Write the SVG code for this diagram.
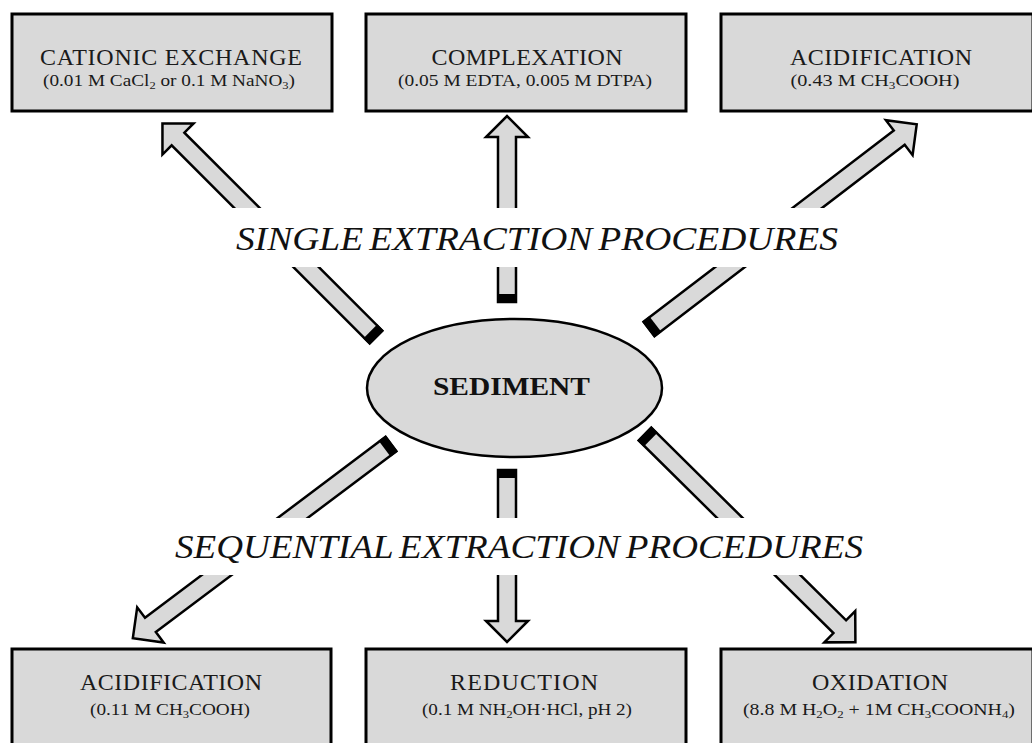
<svg xmlns="http://www.w3.org/2000/svg" width="1032" height="743" viewBox="0 0 1032 743">
<defs>
<style>
.box{fill:#d9d9d9;stroke:#000;stroke-width:3}
.t{font-family:"Liberation Serif","Times New Roman",serif;font-size:24px;fill:#1a1a1a;text-anchor:middle}
.s{font-family:"Liberation Serif","Times New Roman",serif;font-size:17px;fill:#1a1a1a;text-anchor:middle}
.sub{font-size:11px}
.arr{fill:#d9d9d9;stroke:#000;stroke-width:2.5;stroke-linejoin:miter}
.cap{fill:#000}
.band{font-family:"Liberation Serif","Times New Roman",serif;font-size:34px;font-style:italic;fill:#111;word-spacing:-3px}
</style>
</defs>
<rect width="1032" height="743" fill="#fff"/>

<g id="connectors">
<g transform="translate(376,337) rotate(-135)">
<polygon class="arr" points="0,-9 280,-9 280,-22 302,0 280,22 280,9 0,9"/>
<rect class="cap" x="-1" y="-10" width="9" height="20"/>
</g>
<g transform="translate(507,302) rotate(-90)">
<polygon class="arr" points="0,-9 165,-9 165,-21 186,0 165,21 165,9 0,9"/>
<rect class="cap" x="-1" y="-10" width="9" height="20"/>
</g>
<g transform="translate(649,329) rotate(-37.4)">
<polygon class="arr" points="0,-9 315,-9 315,-22 337,0 315,22 315,9 0,9"/>
<rect class="cap" x="-1" y="-10" width="9" height="20"/>
</g>
<g transform="translate(391,444) rotate(143.06)">
<polygon class="arr" points="0,-9 301,-9 301,-22 323,0 301,22 301,9 0,9"/>
<rect class="cap" x="-1" y="-10" width="9" height="20"/>
</g>
<g transform="translate(507,470) rotate(90)">
<polygon class="arr" points="0,-9 151,-9 151,-21 172,0 151,21 151,9 0,9"/>
<rect class="cap" x="-1" y="-10" width="9" height="20"/>
</g>
<g transform="translate(645,434) rotate(44.7)">
<polygon class="arr" points="0,-9 274,-9 274,-22 296,0 274,22 274,9 0,9"/>
<rect class="cap" x="-1" y="-10" width="9" height="20"/>
</g>
</g>

<g id="labels">
<rect x="220" y="208" width="640" height="59" fill="#fff"/>
<rect x="160" y="518" width="720" height="57" fill="#fff"/>
<text class="band" x="236" y="250" textLength="602" lengthAdjust="spacingAndGlyphs">SINGLE EXTRACTION PROCEDURES</text>
<text class="band" x="175" y="558" textLength="688" lengthAdjust="spacingAndGlyphs">SEQUENTIAL EXTRACTION PROCEDURES</text>
</g>

<g id="sediment">
<ellipse cx="514.5" cy="388" rx="147.5" ry="69" fill="#d9d9d9" stroke="#000" stroke-width="2.5"/>
<text x="433" y="395" font-family="Liberation Serif, serif" font-weight="bold" font-size="26" fill="#111" textLength="157" lengthAdjust="spacingAndGlyphs">SEDIMENT</text>
</g>

<g id="cationic">
<rect class="box" x="12" y="14" width="320" height="97"/>
<text class="t" x="171" y="65" textLength="262" lengthAdjust="spacing">CATIONIC EXCHANGE</text>
<text class="s" x="169" y="86" textLength="252" lengthAdjust="spacingAndGlyphs">(0.01 M CaCl<tspan class="sub" dy="3">2</tspan><tspan dy="-3"> or 0.1 M NaNO</tspan><tspan class="sub" dy="3">3</tspan><tspan dy="-3">)</tspan></text>
</g>

<g id="complexation">
<rect class="box" x="366" y="14" width="320" height="97"/>
<text class="t" x="527" y="65" textLength="191" lengthAdjust="spacing">COMPLEXATION</text>
<text class="s" x="525" y="86" textLength="254" lengthAdjust="spacingAndGlyphs">(0.05 M EDTA, 0.005 M DTPA)</text>
</g>

<g id="acidification-single">
<rect class="box" x="721" y="14" width="312" height="97"/>
<text class="t" x="881" y="65" textLength="182" lengthAdjust="spacing">ACIDIFICATION</text>
<text class="s" x="875" y="86" textLength="169" lengthAdjust="spacingAndGlyphs">(0.43 M CH<tspan class="sub" dy="3">3</tspan><tspan dy="-3">COOH)</tspan></text>
</g>

<g id="acidification-seq">
<rect class="box" x="12" y="649" width="319" height="110"/>
<text class="t" x="171" y="690" textLength="182" lengthAdjust="spacing">ACIDIFICATION</text>
<text class="s" x="170" y="715" textLength="160" lengthAdjust="spacingAndGlyphs">(0.11 M CH<tspan class="sub" dy="3">3</tspan><tspan dy="-3">COOH)</tspan></text>
</g>

<g id="reduction">
<rect class="box" x="366" y="649" width="320" height="110"/>
<text class="t" x="524" y="690" textLength="148" lengthAdjust="spacing">REDUCTION</text>
<text class="s" x="527" y="715" textLength="210" lengthAdjust="spacingAndGlyphs">(0.1 M NH<tspan class="sub" dy="3">2</tspan><tspan dy="-3">OH·HCl, pH 2)</tspan></text>
</g>

<g id="oxidation">
<rect class="box" x="721" y="649" width="312" height="110"/>
<text class="t" x="880" y="690" textLength="136" lengthAdjust="spacing">OXIDATION</text>
<text class="s" x="879" y="715" textLength="272" lengthAdjust="spacingAndGlyphs">(8.8 M H<tspan class="sub" dy="3">2</tspan><tspan dy="-3">O</tspan><tspan class="sub" dy="3">2</tspan><tspan dy="-3">  + 1M CH</tspan><tspan class="sub" dy="3">3</tspan><tspan dy="-3">COONH</tspan><tspan class="sub" dy="3">4</tspan><tspan dy="-3">)</tspan></text>
</g>
</svg>
